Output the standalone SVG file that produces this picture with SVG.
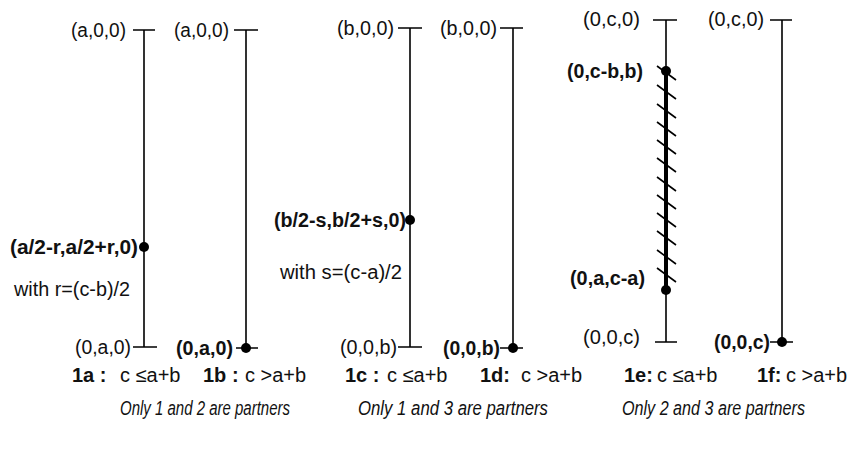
<svg xmlns="http://www.w3.org/2000/svg" width="851" height="449" viewBox="0 0 851 449">
<style>
.t{font-family:"Liberation Sans",Arial,sans-serif;font-size:20px;fill:#111}
.b{font-weight:bold}
.i{font-style:italic}
.r{text-anchor:end}
.ln{stroke:#000;stroke-width:1.6;fill:none}
.th{stroke:#000;stroke-width:4;fill:none}
.h{stroke:#000;stroke-width:1.6}
.d{fill:#000}
</style>
<rect width="851" height="449" fill="#fff"/>
<g id="connectors">
<path class="ln" d="M144 30V347M133 30H155M133 347H157"/>
<path class="ln" d="M246 30V348M234 30H258M236 348H258"/>
<path class="ln" d="M410 28V347M398 28H422M398 347H422"/>
<path class="ln" d="M513 28V348M500 28H523M500 348H523"/>
<path class="ln" d="M666 20V342M653 20H677M655 342H677"/>
<path class="ln" d="M782 20V342M770 20H792M770 342H793"/>
<path class="th" d="M666 70V290"/>
<g class="h">
<path d="M657 66l19 14M657 85l19 14M657 104l19 14M657 122l19 14M657 140l19 14M657 158l19 14M657 177l19 14M657 195l19 14M657 213l19 14M657 231l19 14M657 250l19 14M657 268l19 14"/>
</g>
</g>
<g id="n1a">
<text class="t r" x="126" y="37" textLength="55" lengthAdjust="spacingAndGlyphs">(a,0,0)</text>
<circle class="d" cx="144" cy="247" r="5"/>
<text class="t b r" x="138" y="254" textLength="128" lengthAdjust="spacingAndGlyphs">(a/2-r,a/2+r,0)</text>
<text class="t" x="14" y="296" textLength="116" lengthAdjust="spacingAndGlyphs">with r=(c-b)/2</text>
<text class="t r" x="131" y="354" textLength="56" lengthAdjust="spacingAndGlyphs">(0,a,0)</text>
<text class="t b" x="72" y="382">1a :</text>
<text class="t" x="120" y="382">c ≤a+b</text>
</g>
<g id="n1b">
<text class="t r" x="229" y="37" textLength="55" lengthAdjust="spacingAndGlyphs">(a,0,0)</text>
<circle class="d" cx="246" cy="348" r="5"/>
<text class="t b r" x="233" y="355" textLength="57" lengthAdjust="spacingAndGlyphs">(0,a,0)</text>
<text class="t b" x="203" y="382">1b :</text>
<text class="t" x="245" y="382">c &gt;a+b</text>
</g>
<g id="n1c">
<text class="t r" x="394" y="35" textLength="57" lengthAdjust="spacingAndGlyphs">(b,0,0)</text>
<circle class="d" cx="410" cy="220" r="5"/>
<text class="t b r" x="406" y="227" textLength="132" lengthAdjust="spacingAndGlyphs">(b/2-s,b/2+s,0)</text>
<text class="t" x="280" y="279" textLength="122" lengthAdjust="spacingAndGlyphs">with s=(c-a)/2</text>
<text class="t r" x="397" y="354" textLength="57" lengthAdjust="spacingAndGlyphs">(0,0,b)</text>
<text class="t b" x="345" y="382">1c :</text>
<text class="t" x="387" y="382">c ≤a+b</text>
</g>
<g id="n1d">
<text class="t r" x="497" y="35" textLength="57" lengthAdjust="spacingAndGlyphs">(b,0,0)</text>
<circle class="d" cx="513" cy="348" r="5"/>
<text class="t b r" x="500" y="355" textLength="57" lengthAdjust="spacingAndGlyphs">(0,0,b)</text>
<text class="t b" x="480" y="382">1d:</text>
<text class="t" x="521" y="382">c &gt;a+b</text>
</g>
<g id="n1e">
<text class="t r" x="640" y="26" textLength="57" lengthAdjust="spacingAndGlyphs">(0,c,0)</text>
<circle class="d" cx="666" cy="71" r="5"/>
<text class="t b r" x="643" y="78" textLength="76" lengthAdjust="spacingAndGlyphs">(0,c-b,b)</text>
<circle class="d" cx="666" cy="290" r="5"/>
<text class="t b r" x="645" y="285" textLength="75" lengthAdjust="spacingAndGlyphs">(0,a,c-a)</text>
<text class="t r" x="640" y="344" textLength="57" lengthAdjust="spacingAndGlyphs">(0,0,c)</text>
<text class="t b" x="624" y="382">1e:</text>
<text class="t" x="657" y="382">c ≤a+b</text>
</g>
<g id="n1f">
<text class="t r" x="764" y="26" textLength="56" lengthAdjust="spacingAndGlyphs">(0,c,0)</text>
<circle class="d" cx="782" cy="342" r="5"/>
<text class="t b r" x="770" y="349" textLength="56" lengthAdjust="spacingAndGlyphs">(0,0,c)</text>
<text class="t b" x="757" y="382">1f:</text>
<text class="t" x="786" y="382">c &gt;a+b</text>
</g>
<g id="captions">
<text class="t i" x="120" y="415" textLength="170" lengthAdjust="spacingAndGlyphs">Only 1 and 2 are partners</text>
<text class="t i" x="358" y="415" textLength="190" lengthAdjust="spacingAndGlyphs">Only 1 and 3 are partners</text>
<text class="t i" x="622" y="415" textLength="183" lengthAdjust="spacingAndGlyphs">Only 2 and 3 are partners</text>
</g>
</svg>
